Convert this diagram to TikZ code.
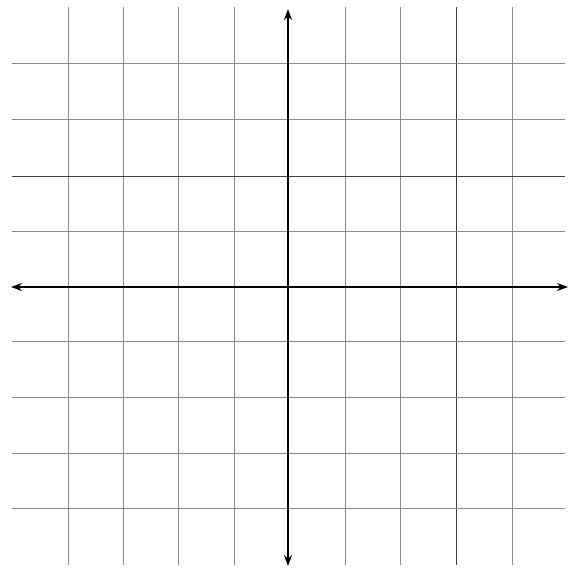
\documentclass[tikz,border=0pt]{standalone}
\usetikzlibrary{arrows.meta}
\begin{document}
\begin{tikzpicture}[x=1pt,y=-1pt,
  gridline/.style={draw=black!45,line width=0.8pt},
  darkgrid/.style={draw=black!75,line width=0.9pt},
  axisline/.style={draw=black,line width=1.8pt,-{Stealth[length=11pt,width=8pt]}}]
\useasboundingbox[fill=white] (0,0) rectangle (577,568);
% vertical grid lines
\foreach \x in {68,123,178,234,345,400,512}
  \draw[gridline] (\x,7) -- (\x,565);
\draw[darkgrid] (456,7) -- (456,565);
% horizontal grid lines
\foreach \y in {63,119,231,341,397,453,508}
  \draw[gridline] (12,\y) -- (565,\y);
\draw[darkgrid] (12,176) -- (565,176);
% axes
\coordinate (O) at (288,287);
\coordinate (xl) at (11,287);
\coordinate (xr) at (568,287);
\coordinate (yt) at (288,9);
\coordinate (yb) at (288,566);
\draw[axisline] (O) -- (xr);
\draw[axisline] (O) -- (xl);
\draw[axisline] (O) -- (yt);
\draw[axisline] (O) -- (yb);
\end{tikzpicture}
\end{document}
